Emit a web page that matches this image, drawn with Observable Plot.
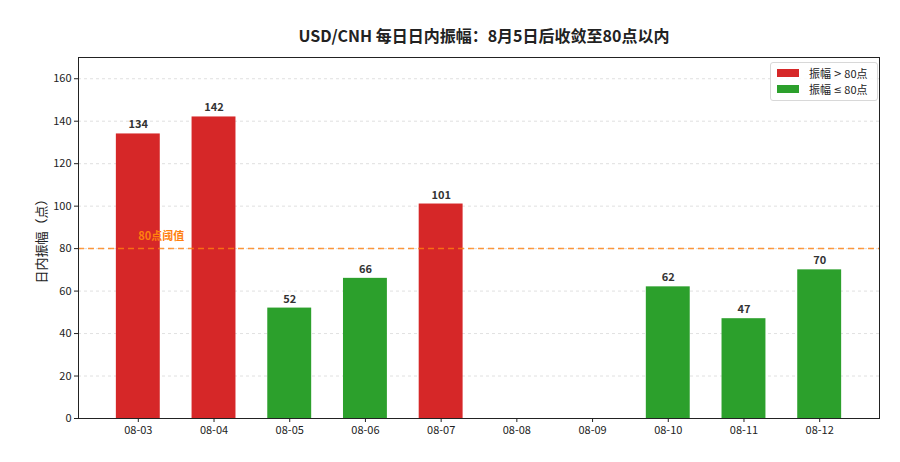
<!DOCTYPE html>
<html>
<head>
<meta charset="utf-8">
<script src="https://cdn.jsdelivr.net/npm/d3@7"></script>
<script src="https://cdn.jsdelivr.net/npm/@observablehq/plot@0.6"></script>
<style>
  html, body { margin: 0; padding: 0; background: #fff; }
  body { width: 900px; height: 462px; position: relative; overflow: hidden; font-family: "Noto Sans CJK SC", "Noto Sans", sans-serif; }
  #title { height: 46px; box-sizing: border-box; padding-top: 25px; line-height: 20px; text-align: center; font-size: 16px; font-weight: bold; color: #222; padding-left: 68px; white-space: nowrap; }
  #legend { position: absolute; left: 770px; top: 62px; width: 108px; height: 39px; box-sizing: border-box; border: 1px solid #d8d8d8; border-radius: 3px; background: rgba(255,255,255,0.85); font-size: 11px; color: #222; }
  .row { position: absolute; left: 6px; display: flex; align-items: center; height: 14px; white-space: pre; }
  .sw { width: 22px; height: 8px; margin-right: 10px; }
  .sym { font-family: "DejaVu Sans", sans-serif; font-size: 10px; }
</style>
</head>
<body>
<div id="title">USD/CNH 每日日内振幅：8月5日后收敛至80点以内</div>
<div id="chart"></div>
<div id="legend">
  <div class="row" style="top:3px"><div class="sw" style="background:#d62728"></div>振幅 <span class="sym">&gt;</span> 80点</div>
  <div class="row" style="top:19px"><div class="sw" style="background:#2ca02c"></div>振幅 <span class="sym">≤</span> 80点</div>
</div>
<script>
const dates = ["08-03","08-04","08-05","08-06","08-07","08-08","08-09","08-10","08-11","08-12"];
const amplitudes = [134, 142, 52, 66, 101, null, null, 62, 47, 70];
const threshold = 80;
const yTicks = [0, 20, 40, 60, 80, 100, 120, 140, 160];
const thresholdLabel = "80点阈值";
const yLabel = "日内振幅（点）";

const data = dates.map((d, i) => ({date: d, value: amplitudes[i], group: amplitudes[i] > threshold ? "above" : "below"}));
const bars = data.filter(d => d.value != null);

const chart = Plot.plot({
  width: 900,
  height: 416,
  marginTop: 11,
  marginBottom: 44,
  marginLeft: 78,
  marginRight: 21,
  style: {fontFamily: "'Noto Sans CJK SC', 'Noto Sans', sans-serif", fontSize: "11px", color: "#222", background: "transparent"},
  x: {domain: dates, paddingInner: 0.42, paddingOuter: 0.5, round: false, label: null},
  y: {domain: [0, 170], label: null},
  color: {domain: ["above", "below"], range: ["#d62728", "#2ca02c"]},
  marks: [
    Plot.gridY(yTicks, {stroke: "#bbb", strokeOpacity: 0.45, strokeDasharray: "3,3"}),
    Plot.barY(bars, {x: "date", y: "value", fill: "group"}),
    Plot.ruleY([threshold], {stroke: "#ff7f0e", strokeWidth: 1.5, strokeDasharray: "6,4", strokeOpacity: 0.8}),
    Plot.text([{x: dates[0], y: threshold}], {x: "x", y: "y", text: () => thresholdLabel, textAnchor: "start", dy: -12, fill: "#ff7f0e", fontWeight: "bold", fontSize: 11}),
    Plot.text(bars, {x: "date", y: "value", text: d => String(d.value), dy: -9, fontWeight: "bold", fill: "#333", fontSize: 11}),
    Plot.axisX({tickSize: 4, tickPadding: 4, label: null, fontSize: 11}),
    Plot.axisY({ticks: yTicks, tickSize: 4, tickPadding: 3, label: yLabel, labelAnchor: "center", labelArrow: "none", labelOffset: 42, fontSize: 11}),
    Plot.frame({stroke: "#222", strokeWidth: 1})
  ]
});
document.getElementById("chart").appendChild(chart);
chart.querySelectorAll("g[aria-label='y-axis label'] text").forEach(t => { t.setAttribute("font-size", "13"); });
</script>
</body>
</html>
